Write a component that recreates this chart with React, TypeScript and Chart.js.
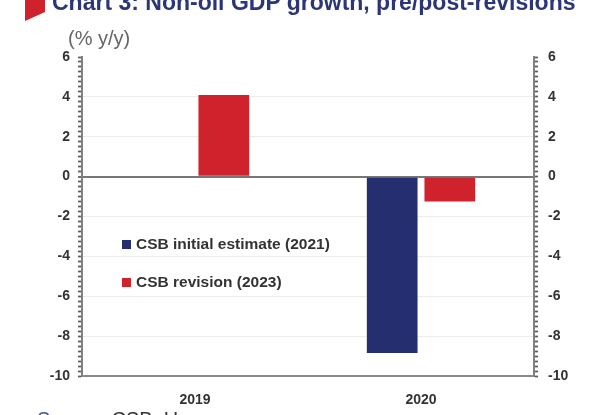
import React, { useEffect, useRef } from "react";
import { Chart, registerables } from "chart.js";

Chart.register(...registerables);

const categories = ["2019", "2020"];
const initialEstimate = [0.05, -8.85];
const revision = [4.1, -1.25];
const seriesNames = ["CSB initial estimate (2021)", "CSB revision (2023)"];
const seriesColors = ["#252f6f", "#d0222c"];
const yMin = -10;
const yMax = 6;

const FONT = "'Liberation Sans', Arial, Helvetica, sans-serif";

export default function App() {
  const canvasRef = useRef<HTMLCanvasElement | null>(null);

  useEffect(() => {
    const canvas = canvasRef.current;
    if (!canvas) return;
    const isMajor = (v: number) => Math.abs(v % 2) < 1e-9;
    const chart = new Chart(canvas, {
      type: "bar",
      data: {
        labels: categories,
        datasets: [
          {
            label: seriesNames[0],
            data: initialEstimate,
            backgroundColor: seriesColors[0],
            categoryPercentage: 0.51,
            barPercentage: 0.88,
          },
          {
            label: seriesNames[1],
            data: revision,
            backgroundColor: seriesColors[1],
            categoryPercentage: 0.51,
            barPercentage: 0.88,
          },
        ],
      },
      options: {
        animation: false,
        responsive: false,
        maintainAspectRatio: false,
        layout: { padding: { top: 57, bottom: 0, left: 0, right: 0 } },
        plugins: { legend: { display: false }, tooltip: { enabled: false } },
        scales: {
          x: {
            type: "category",
            grid: { display: false },
            border: { display: true, color: "#8a8a8a", width: 2 },
            ticks: {
              color: "#333",
              font: { family: FONT, size: 14, weight: "bold" },
              padding: 8,
            },
            afterFit: (s: any) => {
              s.height = 39;
            },
          },
          y: {
            position: "left",
            min: yMin,
            max: yMax,
            ticks: {
              stepSize: 0.25,
              autoSkip: false,
              color: "#333",
              font: { family: FONT, size: 14, weight: "bold" },
              padding: 8,
              callback: (v: any) => (isMajor(Number(v)) ? String(v) : ""),
            },
            grid: {
              drawTicks: true,
              tickLength: 4,
              color: (ctx: any) => {
                const v = ctx.tick ? ctx.tick.value : NaN;
                if (v === 0) return "#777";
                if (v === yMin || v === yMax) return "rgba(0,0,0,0)";
                return isMajor(v) ? "#ececec" : "rgba(0,0,0,0)";
              },
              lineWidth: (ctx: any) => (ctx.tick && ctx.tick.value === 0 ? 2 : 1),
              tickColor: "#5f5f5f",
              tickWidth: 1.8,
            },
            border: { display: true, color: "#808080", width: 2 },
            afterFit: (s: any) => {
              s.width = 82;
            },
          },
          y2: {
            position: "right",
            min: yMin,
            max: yMax,
            ticks: {
              stepSize: 0.25,
              autoSkip: false,
              color: "#333",
              font: { family: FONT, size: 14, weight: "bold" },
              padding: 10,
              callback: (v: any) => (isMajor(Number(v)) ? String(v) : ""),
            },
            grid: {
              drawOnChartArea: false,
              drawTicks: true,
              tickLength: 4,
              tickColor: "#5f5f5f",
              tickWidth: 1.8,
            },
            border: { display: true, color: "#808080", width: 2 },
            afterFit: (s: any) => {
              s.width = 69;
            },
          },
        },
      },
    });
    return () => chart.destroy();
  }, []);

  return (
    <div
      style={{
        position: "fixed",
        left: 0,
        top: 0,
        width: 603,
        height: 415,
        overflow: "hidden",
        background: "#fff",
        fontFamily: FONT,
      }}
    >
      <canvas
        ref={canvasRef}
        width={603}
        height={415}
        style={{ position: "absolute", left: 0, top: 0, width: 603, height: 415 }}
      />
      <div
        style={{
          position: "absolute",
          left: 25,
          top: 0,
          width: 20,
          height: 21,
          background: "#d0222c",
          clipPath: "polygon(0 0, 100% 0, 100% 57%, 0 100%)",
        }}
      />
      <div
        style={{
          position: "absolute",
          left: 52,
          top: -9,
          fontSize: 23,
          lineHeight: "23px",
          fontWeight: "bold",
          color: "#2b3577",
          whiteSpace: "nowrap",
        }}
      >
        Chart 3: Non-oil GDP growth, pre/post-revisions
      </div>
      <div
        style={{
          position: "absolute",
          left: 68,
          top: 28,
          fontSize: 20,
          lineHeight: "20px",
          color: "#666",
          whiteSpace: "nowrap",
        }}
      >
        (% y/y)
      </div>
      <div style={{ position: "absolute", left: 122, top: 234, fontSize: 15.5, fontWeight: "bold", color: "#333" }}>
        {seriesNames.map((name, i) => (
          <div
            key={name}
            style={{ display: "flex", alignItems: "center", height: 20, marginBottom: i === 0 ? 18 : 0, whiteSpace: "nowrap" }}
          >
            <span style={{ display: "inline-block", width: 9, height: 9, background: seriesColors[i], marginRight: 5 }} />
            <span>{name}</span>
          </div>
        ))}
      </div>
      <div
        style={{
          position: "absolute",
          left: 37,
          top: 409,
          fontSize: 20,
          lineHeight: "20px",
          whiteSpace: "nowrap",
          color: "#333",
        }}
      >
        <span style={{ color: "#4a55a0" }}>Source:</span> CSB, Haver
      </div>
    </div>
  );
}
